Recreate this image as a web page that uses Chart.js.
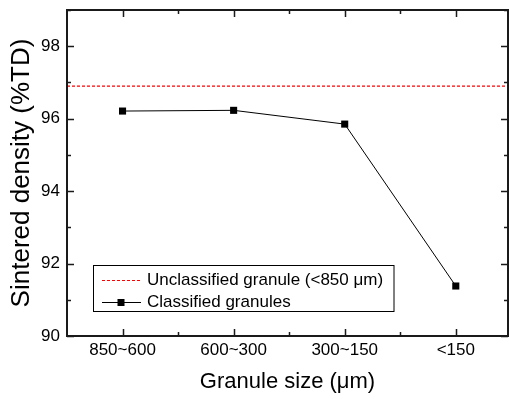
<!DOCTYPE html>
<html>
<head>
<meta charset="utf-8">
<script src="https://cdn.jsdelivr.net/npm/chart.js@4/dist/chart.umd.min.js"></script>
<style>
  body { margin: 0; background: #fff; }
  #wrap { width: 509px; height: 399px; }
</style>
</head>
<body>
<div id="wrap"><canvas id="chart" width="509" height="399"></canvas></div>
<script>
// data
const categories = ["850~600", "600~300", "300~150", "<150"];
const classifiedValues = [96.21, 96.23, 95.85, 91.38];
const unclassifiedValue = 96.9;
const yTicks = [90, 92, 94, 96, 98];
const yMin = 90, yMax = 99;
const xMin = -0.5, xMax = 3.47;

const FONT = "'Liberation Sans', Arial, sans-serif";

// frame + inward ticks on all four sides
const framePlugin = {
  id: "frame",
  afterDatasetsDraw(chart) {
    const { ctx, chartArea: a, scales } = chart;
    const x = scales.x, y = scales.y;
    ctx.save();
    ctx.strokeStyle = "#1a1a1a";
    ctx.lineWidth = 1.5;
    // y ticks (major on even, minor on odd)
    for (let v = yMin; v <= yMax; v++) {
      const py = Math.round(y.getPixelForValue(v)) + 0.5;
      const len = yTicks.includes(v) ? 7 : 4;
      ctx.beginPath();
      ctx.moveTo(a.left, py); ctx.lineTo(a.left + len, py);
      ctx.moveTo(a.right, py); ctx.lineTo(a.right - len, py);
      ctx.stroke();
    }
    // x ticks (major on categories, minor between)
    for (let i = 0; i <= categories.length * 2 - 1; i++) {
      const v = i / 2;
      if (v > xMax) break;
      const px = Math.round(x.getPixelForValue(v)) + 0.5;
      const len = i % 2 === 0 ? 7 : 4;
      ctx.beginPath();
      ctx.moveTo(px, a.bottom); ctx.lineTo(px, a.bottom - len);
      ctx.moveTo(px, a.top); ctx.lineTo(px, a.top + len);
      ctx.stroke();
    }
    ctx.lineWidth = 2;
    ctx.strokeRect(a.left, a.top, a.right - a.left, a.bottom - a.top);
    ctx.restore();
  },
  afterDraw(chart) {
    // legend box inside the plot
    const { ctx } = chart;
    const ds = chart.data.datasets;
    const bx = 93.5, by = 265.5, bw = 300.5, bh = 46;
    ctx.save();
    ctx.fillStyle = "#fff";
    ctx.fillRect(bx, by, bw, bh);
    ctx.strokeStyle = "#000";
    ctx.lineWidth = 1;
    ctx.strokeRect(bx, by, bw, bh);
    const rows = [280, 302];
    ds.forEach((d, i) => {
      const yy = rows[i] + 0.5;
      ctx.strokeStyle = d.borderColor;
      ctx.lineWidth = d.borderWidth;
      ctx.setLineDash(d.borderDash || []);
      ctx.beginPath();
      ctx.moveTo(102, yy); ctx.lineTo(141, yy);
      ctx.stroke();
      ctx.setLineDash([]);
      if (d.pointRadius > 0) {
        ctx.fillStyle = d.pointBackgroundColor;
        ctx.fillRect(117.5, yy - 3.5, 7, 7);
      }
      ctx.fillStyle = "#000";
      ctx.font = "17px " + FONT;
      ctx.textBaseline = "middle";
      ctx.fillText(d.label, 147, yy);
    });
    ctx.restore();
  }
};

new Chart(document.getElementById("chart").getContext("2d"), {
  type: "line",
  data: {
    datasets: [
      {
        label: "Unclassified granule (<850 \u03bcm)",
        data: [{ x: xMin, y: unclassifiedValue }, { x: xMax, y: unclassifiedValue }],
        borderColor: "#ff0000",
        borderWidth: 1.2,
        borderDash: [3, 2],
        pointRadius: 0,
      },
      {
        label: "Classified granules",
        data: classifiedValues.map((v, i) => ({ x: i, y: v })),
        borderColor: "#000",
        borderWidth: 1,
        pointStyle: "rect",
        pointRadius: 5,
        pointBackgroundColor: "#000",
        pointBorderColor: "#000",
        pointBorderWidth: 0,
      },
    ],
  },
  options: {
    responsive: false,
    animation: false,
    layout: { autoPadding: false, padding: { left: 0, top: 10, right: 1, bottom: 0 } },
    plugins: { legend: { display: false }, tooltip: { enabled: false } },
    scales: {
      x: {
        type: "linear",
        min: xMin,
        max: xMax,
        afterBuildTicks: (s) => { s.ticks = categories.map((c, i) => ({ value: i })); },
        afterFit: (s) => { s.height = 63; s.paddingLeft = 0; s.paddingRight = 0; },
        grid: { display: false, drawTicks: false },
        border: { display: false },
        ticks: {
          padding: 4,
          color: "#000",
          font: { size: 17, family: FONT },
          maxRotation: 0,
          autoSkip: false,
          callback: (v) => categories[Math.round(v)],
        },
        title: {
          display: true,
          text: "Granule size (\u03bcm)",
          color: "#000",
          font: { size: 22, family: FONT },
          padding: { top: 0, bottom: 4 },
        },
      },
      y: {
        min: yMin,
        max: yMax,
        afterBuildTicks: (s) => { s.ticks = yTicks.map((v) => ({ value: v })); },
        afterFit: (s) => { s.width = 67; s.paddingTop = 0; s.paddingBottom = 0; },
        grid: { display: false, drawTicks: false },
        border: { display: false },
        ticks: {
          padding: 7,
          color: "#000",
          font: { size: 17, family: FONT },
        },
        title: {
          display: true,
          text: "Sintered density (%TD)",
          color: "#000",
          font: { size: 26, family: FONT },
          padding: { top: 6, bottom: 0 },
        },
      },
    },
  },
  plugins: [framePlugin],
});
</script>
</body>
</html>
